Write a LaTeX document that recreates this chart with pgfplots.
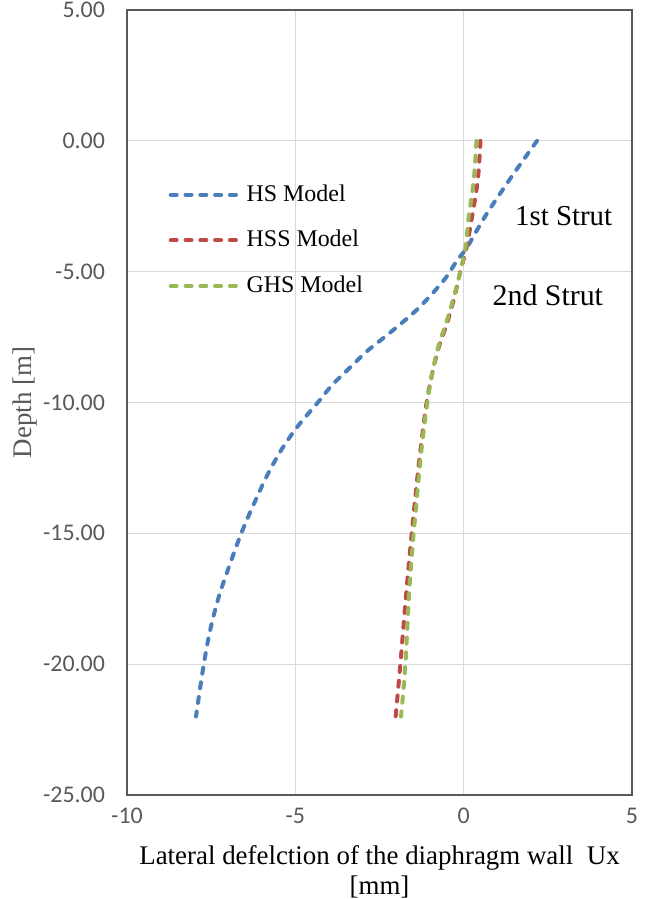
\documentclass[border=0pt]{standalone}
\usepackage{pgfplots}
\pgfplotsset{compat=1.18}
\usepackage{fontspec}
\setmainfont{Liberation Serif}
\newfontfamily\carlito{Carlito}
\definecolor{hsblue}{HTML}{4A7EBB}
\definecolor{hssred}{HTML}{BE4B48}
\definecolor{ghsgreen}{HTML}{98B954}
\definecolor{tickgray}{HTML}{595959}
\definecolor{gridgray}{HTML}{D9D9D9}
\begin{document}
\begin{tikzpicture}
\begin{axis}[
  scale only axis,
  width=252.5bp, height=392.5bp,
  xmin=-10, xmax=5, ymin=-25, ymax=5,
  xtick={-10,-5,0,5}, ytick={-25,-20,...,5},
  grid=major,
  major grid style={gridgray, line width=0.6bp},
  axis line style={tickgray, line width=0.7bp},
  major tick length=0pt,
  /pgf/number format/assume math mode=true,
  ticklabel style={font=\carlito\fontsize{12}{14}\selectfont, text=tickgray},
  yticklabel={\pgfmathprintnumber[fixed, fixed zerofill, precision=2]{\tick}},
  xticklabel style={yshift=-3bp},
  yticklabel style={xshift=-7.5bp},
  xlabel={Lateral defelction of the diaphragm wall\ \ Ux\\{}{[mm]}},
  xlabel style={align=center, font=\fontsize{13.5}{15}\selectfont, yshift=-4bp},
  ylabel={Depth [m]},
  ylabel style={font=\fontsize{13.5}{15}\selectfont, text=tickgray, yshift=-4bp},
  legend style={draw=none, fill=none, at={(0.07,0.788)}, anchor=north west,
    font=\fontsize{12}{14}\selectfont, row sep=9bp,
    /tikz/every even column/.append style={column sep=2bp}},
  legend cell align=left,
  legend image code/.code={\draw[#1] (0bp,0bp) -- (35bp,0bp);},
  every axis plot/.append style={line width=2bp, dash pattern=on 3bp off 4.4bp, line cap=round},
]
\addplot[hsblue, smooth] coordinates {
(2.18,0) (1.44,-1.34) (0.65,-2.86) (0.1,-4.07) (-0.2,-4.58) (-0.54,-5.25)
(-0.94,-5.85) (-1.36,-6.42) (-1.82,-6.94) (-2.3,-7.45) (-2.88,-8.05)
(-3.42,-8.72) (-3.92,-9.35) (-4.3,-9.95) (-4.91,-10.88) (-5.41,-11.8)
(-5.9,-12.95) (-6.55,-14.82) (-6.99,-16.35) (-7.29,-17.5) (-7.54,-18.76)
(-7.74,-20.16) (-7.95,-22)
};
\addlegendentry{HS Model}
\addplot[hssred, smooth] coordinates {
(0.5,0) (0.42,-1.5) (0.25,-2.9) (0.08,-4.1) (-0.1,-5) (-0.28,-6) (-0.5,-7)
(-0.72,-7.8) (-0.92,-8.8) (-1.1,-10) (-1.3,-12) (-1.45,-13.8) (-1.58,-15.5)
(-1.72,-17.5) (-1.88,-20) (-2.02,-22)
};
\addlegendentry{HSS Model}
\addplot[ghsgreen, smooth] coordinates {
(0.38,0) (0.3,-1.5) (0.15,-2.9) (0.05,-4.1) (-0.1,-5) (-0.3,-6) (-0.53,-7)
(-0.74,-7.8) (-0.92,-8.8) (-1.08,-10) (-1.27,-12) (-1.4,-13.8) (-1.52,-15.5)
(-1.63,-17.5) (-1.73,-20) (-1.86,-22)
};
\addlegendentry{GHS Model}
\node[font=\fontsize{14.5}{17}\selectfont] at (axis cs:2.97,-2.87) {1st Strut};
\node[font=\fontsize{15}{17}\selectfont] at (axis cs:2.5,-5.9) {2nd Strut};
\end{axis}
\pgfresetboundingbox
\useasboundingbox (-63.5bp,-52bp) rectangle (261.5bp,397.5bp);
\end{tikzpicture}
\end{document}
